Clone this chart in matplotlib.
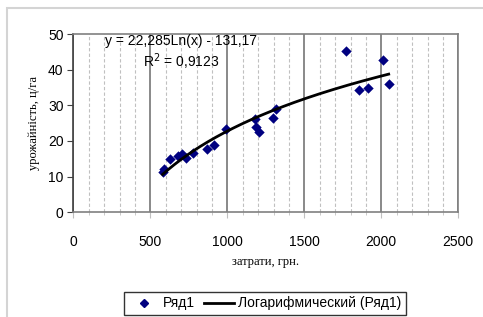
import numpy as np
import matplotlib
matplotlib.use("Agg")
import matplotlib.pyplot as plt
from matplotlib.patches import Rectangle
from matplotlib.lines import Line2D
from matplotlib.ticker import MultipleLocator

# data
costs = [580, 589, 626, 680, 706, 732, 779, 866, 916, 992, 1182, 1186, 1206,
         1299, 1316, 1773, 1857, 1916, 2011, 2048]
yields = [11.4, 12.1, 14.9, 15.7, 16.3, 15.2, 16.5, 17.7, 19.0, 23.4, 26.2, 24.0,
          22.6, 26.4, 29.0, 45.2, 34.3, 34.9, 42.8, 36.0]
coef_a = 22.285
coef_b = -131.17
eq_text = "y = 22,285Ln(x) - 131,17"
r2_text = "R$^2$ = 0,9123"
xticks = [0, 500, 1000, 1500, 2000, 2500]
yticks = [0, 10, 20, 30, 40, 50]

W, H = 483, 317
fig = plt.figure(figsize=(W / 100, H / 100), dpi=100)
fig.patch.set_facecolor("white")

# chart area border
fig.patches.append(Rectangle((7 / W, -0.1), 1.2, 1 - 8 / H + 0.1, transform=fig.transFigure,
                             fill=False, edgecolor="#d4d4d4", linewidth=1.5))

x0, x1 = 73.3, 458.3
y0, y1 = 212.3, 34.0
ax = fig.add_axes([x0 / W, 1 - y0 / H, (x1 - x0) / W, (y0 - y1) / H])
ax.set_xlim(0, 2500)
ax.set_ylim(0, 50)

gray = "#808080"
for s in ax.spines.values():
    s.set_color(gray)
    s.set_linewidth(1.2)
ax.spines["left"].set_color("#404040")

ax.xaxis.set_major_locator(MultipleLocator(500))
ax.xaxis.set_minor_locator(MultipleLocator(100))
ax.set_xticks(xticks)
ax.set_yticks(yticks)
ax.grid(which="major", axis="x", color=gray, linewidth=1.3, linestyle="-")
ax.grid(which="minor", axis="x", color="#c0c0c0", linewidth=0.8, linestyle=(0, (3, 2)))
ax.set_axisbelow(True)
ax.tick_params(axis="x", which="major", direction="out", length=4, color="#c0c0c0",
               labelsize=10, pad=12)
ax.tick_params(axis="x", which="minor", direction="out", length=2, color="#c0c0c0")
ax.tick_params(axis="y", which="major", direction="out", length=4, color="#404040",
               labelsize=10, pad=3)
for lab in ax.get_xticklabels() + ax.get_yticklabels():
    lab.set_family("Liberation Sans")

ax.scatter(costs, yields, marker="D", s=28, color="#000080", zorder=3, linewidths=0)
xs = np.linspace(min(costs), max(costs), 200)
ax.plot(xs, coef_a * np.log(xs) + coef_b, color="black", linewidth=2, zorder=4)

ax.text(700, 48, eq_text, ha="center", va="center", fontsize=10, family="Liberation Sans")
ax.text(700, 42.1, r2_text, ha="center", va="center", fontsize=10, family="Liberation Sans")

fig.text((x0 + x1) / 2 / W, 1 - 262 / H, "затрати, грн.", ha="center", va="center",
         fontsize=9, family="Liberation Serif")
fig.text(34 / W, 1 - 123 / H, "урожайність, ц/га", ha="center", va="center",
         rotation=90, fontsize=9, family="Liberation Serif")

# legend
handles = [Line2D([], [], marker="D", linestyle="none", color="#000080", markersize=4),
           Line2D([], [], color="black", linewidth=2)]
leg = fig.legend(handles, ["Ряд1", "Логарифмический (Ряд1)"], loc="center",
                 bbox_to_anchor=(265 / W, 1 - 303.5 / H), ncol=2, frameon=True,
                 fancybox=False, edgecolor="black", handlelength=2.2,
                 columnspacing=0.6, handletextpad=0.3, borderpad=0.3,
                 prop={"family": "Liberation Sans", "size": 10})
leg.get_frame().set_linewidth(1.0)

fig.savefig("out.png", dpi=100)
